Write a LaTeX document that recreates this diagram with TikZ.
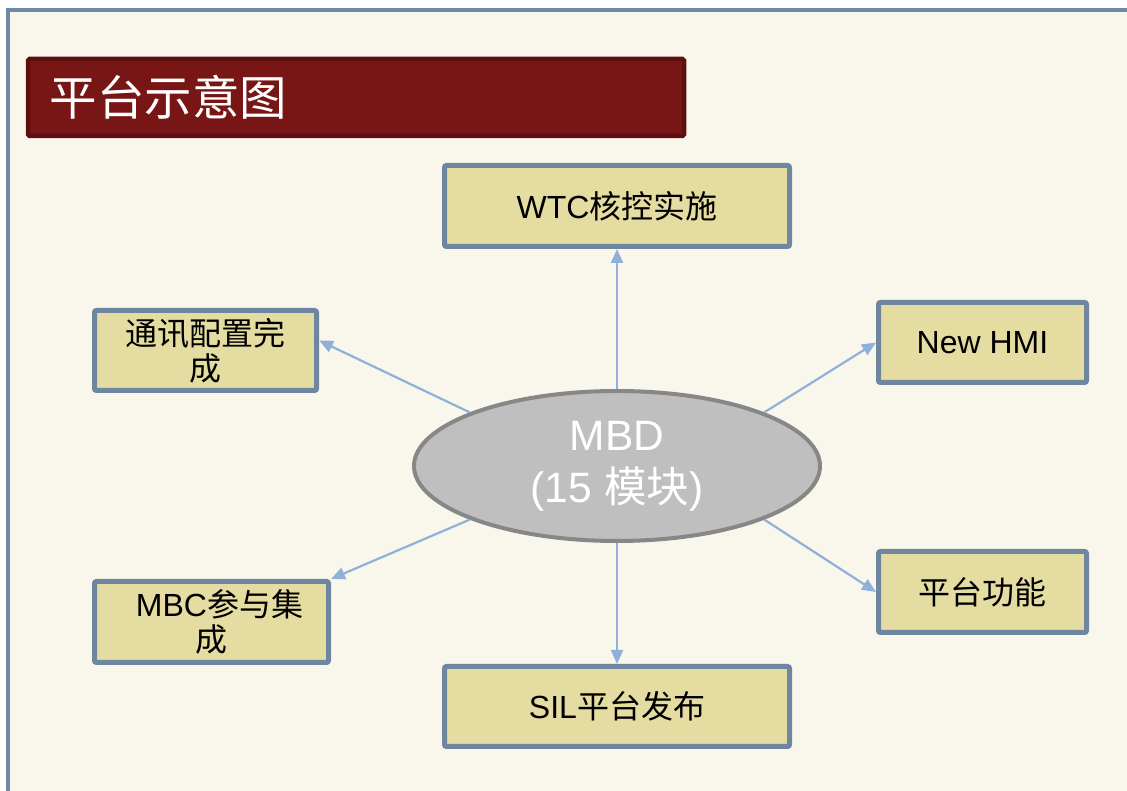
\documentclass[tikz,border=0pt]{standalone}
\usepackage{fontspec}
\setmainfont{Liberation Sans}
\newfontfamily\cjk{Noto Sans CJK SC}
\usetikzlibrary{arrows.meta,shapes.geometric}
\definecolor{framec}{HTML}{7088A4}
\definecolor{bgc}{HTML}{F9F7EC}
\definecolor{titlefill}{HTML}{781515}
\definecolor{titleline}{HTML}{5C0F0F}
\definecolor{boxfill}{HTML}{E4DCA0}
\definecolor{boxline}{HTML}{6F86A0}
\definecolor{ellfill}{HTML}{BFBFBF}
\definecolor{ellline}{HTML}{878787}
\definecolor{arrc}{HTML}{8FB0D8}
\newcommand\zhtxt[1]{{\cjk #1}}
\begin{document}
\begin{tikzpicture}[x=1pt,y=1pt,
  titlebox/.style={draw=titleline, fill=titlefill, line width=4.5pt, rounded corners=1.5pt,
    minimum width=656pt, minimum height=77pt, text width=613pt, inner xsep=21.5pt, align=left,
    text=white, font=\cjk\fontsize{47.5}{52}\selectfont},
  itembox/.style={draw=boxline, fill=boxfill, line width=5pt, rounded corners=2pt,
    inner sep=0pt, align=center, text=black, font=\fontsize{32}{35}\selectfont},
  mbdnode/.style={ellipse, draw=ellline, fill=ellfill, line width=4pt, inner sep=0pt,
    minimum width=406pt, minimum height=150pt, align=center, text=white,
    font=\fontsize{42.5}{52}\selectfont},
  arr/.style={draw=arrc, line width=2.2pt, -{Triangle[length=14pt,width=12pt]}}
]
\useasboundingbox (0,0) rectangle (1127,791);
\fill[white] (0,0) rectangle (1127,791);
\begin{scope}
\clip (0,0) rectangle (1127,791);
\draw[framec, line width=4pt, fill=bgc] (8,781) rectangle (1170,-40);
\end{scope}

\node[titlebox] (title) at (356,693.5) {平台示意图};

\node[mbdnode] (m) at (617,325) {MBD\\(15 \zhtxt{模块})};

\node[itembox, minimum width=345pt, minimum height=81pt] (wtc) at (617,585) {WTC\zhtxt{核控实施}};
\node[itembox, minimum width=222pt, minimum height=80pt] (tx) at (205.5,440.5) {\zhtxt{通讯配置完}\\\zhtxt{成}};
\node[itembox, minimum width=208pt, minimum height=80pt] (hmi) at (982.5,448.5) {New HMI};
\node[itembox, minimum width=208pt, minimum height=81pt] (gn) at (982.5,199) {\zhtxt{平台功能}};
\node[itembox, minimum width=234pt, minimum height=81pt] (mbc) at (211.5,169) {\hspace*{16pt}MBC\zhtxt{参与集}\\\zhtxt{成}};
\node[itembox, minimum width=345pt, minimum height=80pt] (sil) at (617,84.5) {SIL\zhtxt{平台发布}};

\draw[arr] (m.north) -- (wtc.south);
\draw[arr] (m.south) -- (sil.north);
\draw[arr] (m.160) -- ([yshift=10pt]tx.east);
\draw[arr] (m.20) -- (hmi.west);
\draw[arr] (m.-20) -- (gn.west);
\draw[arr] (m.200) -- (mbc.north east);
\end{tikzpicture}
\end{document}
